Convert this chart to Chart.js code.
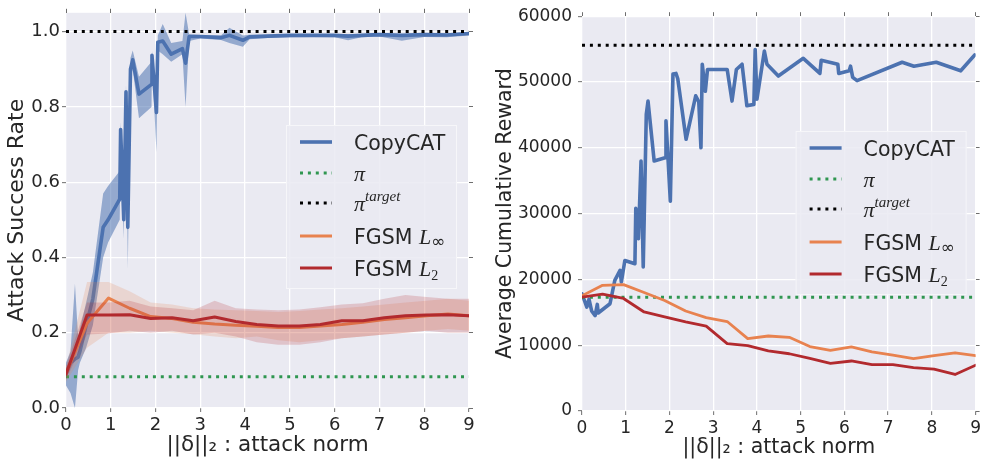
<!DOCTYPE html>
<html>
<head>
<meta charset="utf-8">
<script src="https://cdn.jsdelivr.net/npm/chart.js@4.4.0/dist/chart.umd.min.js"></script>
<style>
  html, body { margin: 0; padding: 0; background: #fff; }
  #wrap { position: relative; width: 984px; height: 460px; }
  .panel { position: absolute; top: 0; height: 460px; }
  #left { left: 0; width: 490px; }
  #right { left: 490px; width: 494px; }
</style>
</head>
<body>
<div id="wrap">
  <div class="panel" id="left"><canvas id="successChart" width="490" height="460"></canvas></div>
  <div class="panel" id="right"><canvas id="rewardChart" width="494" height="460"></canvas></div>
</div>
<script>
// ---- data ----
const xTicks = [0, 1, 2, 3, 4, 5, 6, 7, 8, 9];
const successTicks = [0, 0.2, 0.4, 0.6, 0.8, 1.0];
const rewardTicks = [0, 10000, 20000, 30000, 40000, 50000, 60000];
const seriesNames = ['CopyCAT', 'π', 'πtarget', 'FGSM L∞', 'FGSM L₂'];

// FGSM sweeps share one grid of attack norms
const fgsmNorms = [0, 0.47, 0.95, 1.42, 1.89, 2.37, 2.84, 3.32, 3.79, 4.26, 4.74, 5.21, 5.68, 6.16, 6.63, 7.11, 7.58, 8.05, 8.53, 9];

// left panel: attack success rate
const copycatNorms = [0, 0.1, 0.2, 0.27, 0.31, 0.45, 0.6, 0.83, 0.94, 1.2, 1.22, 1.29, 1.34, 1.38, 1.44, 1.49, 1.63, 1.91, 1.92, 2.02, 2.05, 2.16, 2.35, 2.6, 2.67, 2.75, 3.0, 3.46, 3.65, 3.95, 4.1, 4.5, 5.0, 5.5, 6.0, 6.3, 6.6, 7.0, 7.5, 8.0, 8.5, 9.0];
const copycatRate = [0.09, 0.12, 0.13, 0.135, 0.15, 0.22, 0.29, 0.48, 0.50, 0.555, 0.74, 0.50, 0.84, 0.48, 0.90, 0.925, 0.834, 0.86, 0.937, 0.785, 0.972, 0.975, 0.94, 0.955, 0.916, 0.987, 0.987, 0.984, 0.99, 0.977, 0.986, 0.988, 0.99, 0.99, 0.99, 0.988, 0.99, 0.992, 0.99, 0.992, 0.991, 0.995];
const copycatRateLow = [0.06, 0.04, 0.0, 0.10, 0.12, 0.16, 0.22, 0.40, 0.44, 0.50, 0.70, 0.45, 0.82, 0.37, 0.87, 0.90, 0.77, 0.80, 0.92, 0.68, 0.95, 0.94, 0.92, 0.94, 0.80, 0.975, 0.982, 0.978, 0.97, 0.96, 0.98, 0.983, 0.985, 0.986, 0.985, 0.977, 0.985, 0.987, 0.976, 0.986, 0.985, 0.99];
const copycatRateHigh = [0.12, 0.15, 0.33, 0.19, 0.21, 0.28, 0.36, 0.57, 0.59, 0.63, 0.76, 0.54, 0.86, 0.56, 0.93, 0.95, 0.88, 0.92, 0.95, 0.80, 0.99, 1.02, 0.97, 0.975, 1.05, 0.993, 0.991, 0.99, 1.01, 0.99, 0.992, 0.992, 0.993, 0.993, 0.994, 0.993, 0.994, 0.995, 0.994, 0.995, 0.995, 0.998];

const fgsmInfRate = [0.092, 0.225, 0.292, 0.265, 0.243, 0.238, 0.228, 0.223, 0.22, 0.217, 0.214, 0.214, 0.218, 0.222, 0.228, 0.235, 0.24, 0.245, 0.25, 0.245];
const fgsmInfRateLow = [0.07, 0.16, 0.20, 0.20, 0.205, 0.20, 0.196, 0.19, 0.185, 0.19, 0.18, 0.175, 0.18, 0.185, 0.19, 0.195, 0.20, 0.205, 0.21, 0.205];
const fgsmInfRateHigh = [0.11, 0.335, 0.335, 0.31, 0.28, 0.275, 0.265, 0.262, 0.26, 0.258, 0.255, 0.258, 0.262, 0.265, 0.27, 0.275, 0.28, 0.285, 0.29, 0.285];

const fgsmL2Rate = [0.09, 0.247, 0.247, 0.248, 0.238, 0.24, 0.232, 0.242, 0.23, 0.222, 0.218, 0.218, 0.222, 0.232, 0.232, 0.24, 0.245, 0.247, 0.248, 0.245];
const fgsmL2RateLow = [0.075, 0.195, 0.198, 0.205, 0.20, 0.205, 0.195, 0.20, 0.19, 0.175, 0.168, 0.168, 0.175, 0.185, 0.19, 0.195, 0.20, 0.205, 0.20, 0.20];
const fgsmL2RateHigh = [0.11, 0.28, 0.28, 0.285, 0.27, 0.265, 0.26, 0.285, 0.265, 0.262, 0.26, 0.262, 0.268, 0.275, 0.278, 0.29, 0.30, 0.295, 0.29, 0.29];

const piRate = 0.083;
const targetRate = 1.0;

// right panel: average cumulative reward
const copycatRewardNorms = [0, 0.11, 0.16, 0.22, 0.30, 0.35, 0.37, 0.64, 0.75, 0.87, 0.90, 0.98, 1.21, 1.23, 1.29, 1.35, 1.40, 1.47, 1.51, 1.65, 1.90, 1.92, 2.02, 2.08, 2.15, 2.19, 2.38, 2.60, 2.67, 2.72, 2.75, 2.82, 2.87, 3.32, 3.43, 3.53, 3.66, 3.77, 3.93, 3.96, 4.00, 4.17, 4.23, 4.49, 5.06, 5.44, 5.47, 5.85, 5.87, 6.11, 6.14, 6.19, 6.29, 7.32, 7.59, 8.10, 8.66, 8.98];
const copycatReward = [17800, 15800, 17000, 15200, 14500, 16200, 14900, 16300, 19850, 21360, 19600, 22880, 22380, 30800, 26200, 38000, 21900, 45100, 47100, 38000, 38500, 44100, 31900, 51200, 51300, 50500, 41300, 47900, 47000, 40000, 52700, 48600, 51900, 51900, 47100, 51900, 52700, 46400, 46600, 54950, 47400, 54700, 52700, 50900, 53600, 51300, 53300, 52700, 51300, 51700, 52400, 50700, 50200, 53000, 52400, 53000, 51700, 54100];
const fgsmInfReward = [17500, 19100, 19200, 18000, 16800, 15200, 14200, 13600, 11000, 11400, 11200, 9800, 9200, 9750, 9000, 8500, 7950, 8400, 8850, 8400];
const fgsmL2Reward = [17300, 17750, 17100, 15050, 14300, 13550, 12900, 10250, 9950, 9150, 8700, 8000, 7250, 7600, 7050, 7050, 6600, 6350, 5550, 6950];
const piReward = 17300;
const targetReward = 55600;

// ---- styling ----
const FONT = '"DejaVu Sans", sans-serif';
const TEXT = '#262626';
const TICK_COLOR = '#6e6e6e';
const BLUE = '#4C72B0';
const GREEN = '#2F9650';
const ORANGE = '#E8824F';
const RED = '#B22A2E';
const DOTS = [3, 4.9];

function points(xs, ys) {
  return xs.map((x, i) => ({ x: x, y: ys[i] }));
}

function flat(v) {
  return [{ x: xTicks[0], y: v }, { x: xTicks[xTicks.length - 1], y: v }];
}

function line(label, data, color, width, order, dash) {
  return {
    label: label, data: data, borderColor: color, borderWidth: width, borderDash: dash || [],
    pointRadius: 0, tension: 0, fill: false, order: order,
    borderJoinStyle: 'round', borderCapStyle: dash ? 'butt' : 'round'
  };
}

function band(label, low, high, color, order) {
  return [
    { label: label + ' low', data: low, borderWidth: 0, pointRadius: 0, fill: false, order: order },
    { label: label + ' high', data: high, borderWidth: 0, pointRadius: 0, fill: '-1', backgroundColor: color, order: order - 1 }
  ];
}

// grey plot area behind the grid
const plotBackground = {
  id: 'plotBackground',
  beforeDraw(chart) {
    const { ctx, chartArea: a } = chart;
    ctx.save();
    ctx.fillStyle = '#EAEAF2';
    ctx.fillRect(a.left, a.top, a.right - a.left, a.bottom - a.top);
    ctx.restore();
  }
};

const SANS = '20.5px ' + FONT;
const MATH = 'italic 22px "Liberation Serif", serif';
const MATH_SUP = 'italic 15px "Liberation Serif", serif';
const SUB_INF = '17px "DejaVu Sans", sans-serif';
const SUB_NUM = '14px "Liberation Serif", serif';

// legend labels contain math, so split them into styled runs
function labelParts(name) {
  switch (name) {
    case 'CopyCAT': return [{ text: 'CopyCAT', font: SANS, dy: 8 }];
    case 'π': return [{ text: 'π', font: MATH, dy: 8 }];
    case 'πtarget': return [{ text: 'π', font: MATH, dy: 8 }, { text: 'target', font: MATH_SUP, dy: -2 }];
    case 'FGSM L∞': return [{ text: 'FGSM ', font: SANS, dy: 8 }, { text: 'L', font: MATH, dy: 8 }, { text: '∞', font: SUB_INF, dy: 11 }];
    case 'FGSM L₂': return [{ text: 'FGSM ', font: SANS, dy: 8 }, { text: 'L', font: MATH, dy: 8 }, { text: '2', font: SUB_NUM, dy: 12 }];
  }
  return [{ text: name, font: SANS, dy: 8 }];
}

function drawRich(ctx, parts, x, y) {
  parts.forEach(p => {
    ctx.font = p.font;
    ctx.fillText(p.text, x, y + p.dy);
    x += ctx.measureText(p.text).width;
  });
}

const mathLegend = {
  id: 'mathLegend',
  afterDraw(chart, args, opts) {
    const { ctx, chartArea: a } = chart;
    const left = a.right - opts.right;
    const top = opts.top;
    const rows = [17, 48, 78, 111, 143];
    ctx.save();
    ctx.fillStyle = 'rgba(234, 234, 242, 0.85)';
    ctx.fillRect(left, top, 171, 164);
    ctx.strokeStyle = '#F6F6F9';
    ctx.lineWidth = 1;
    ctx.strokeRect(left + 0.5, top + 0.5, 170, 163);
    seriesNames.forEach((name, i) => {
      const ds = chart.data.datasets.find(d => d.label === name);
      const y = top + rows[i];
      ctx.beginPath();
      ctx.strokeStyle = ds.borderColor;
      ctx.lineWidth = ds.borderWidth;
      ctx.setLineDash(ds.borderDash);
      ctx.lineCap = 'butt';
      ctx.moveTo(left + 14, y);
      ctx.lineTo(left + 46, y);
      ctx.stroke();
      ctx.setLineDash([]);
      ctx.fillStyle = TEXT;
      ctx.textBaseline = 'alphabetic';
      drawRich(ctx, labelParts(name), left + 68, y);
    });
    ctx.restore();
  }
};

function buildScales(o) {
  const tickFont = { family: FONT, size: o.tickSize };
  const yTitleFont = { family: FONT, size: o.yTitleSize };
  const xTitleFont = { family: FONT, size: o.xTitleSize };
  const useTicks = list => scale => { scale.ticks = list.map(v => ({ value: v })); };
  const grid = { color: '#ffffff', lineWidth: 1.3, tickColor: TICK_COLOR, tickLength: 4, tickWidth: 1 };
  const marksOnly = { drawOnChartArea: false, tickColor: TICK_COLOR, tickLength: 4, tickWidth: 1 };
  return {
    x: {
      type: 'linear', position: 'bottom', min: xTicks[0], max: xTicks[xTicks.length - 1],
      afterBuildTicks: useTicks(xTicks),
      afterFit: s => { s.height = o.bottom; },
      grid: grid, border: { display: false },
      ticks: { font: tickFont, color: TEXT, padding: 3, maxRotation: 0 },
      title: { display: true, text: '||δ||₂ : attack norm', font: xTitleFont, color: TEXT, padding: { top: 0, bottom: o.xTitlePad } }
    },
    xTop: {
      type: 'linear', position: 'top', min: xTicks[0], max: xTicks[xTicks.length - 1],
      afterBuildTicks: useTicks(xTicks),
      afterFit: s => { s.height = o.top; },
      grid: marksOnly, border: { display: false }, ticks: { display: false }
    },
    y: {
      type: 'linear', position: 'left', min: o.yMin, max: o.yMax,
      afterBuildTicks: useTicks(o.yTicks),
      afterFit: s => { s.width = o.left; },
      grid: grid, border: { display: false },
      ticks: { font: tickFont, color: TEXT, padding: o.yPad, callback: o.yFormat },
      title: { display: true, text: o.yTitle, font: yTitleFont, color: TEXT, padding: { top: o.yTitlePad, bottom: 0 } }
    },
    yRight: {
      type: 'linear', position: 'right', min: o.yMin, max: o.yMax,
      afterBuildTicks: useTicks(o.yTicks),
      afterFit: s => { s.width = o.right; },
      grid: marksOnly, border: { display: false }, ticks: { display: false }
    }
  };
}

function makeChart(id, datasets, scaleOpts, legendOpts) {
  return new Chart(document.getElementById(id), {
    type: 'line',
    data: { datasets: datasets },
    options: {
      responsive: false,
      animation: false,
      devicePixelRatio: 1,
      layout: { padding: 0, autoPadding: false },
      plugins: { legend: { display: false }, tooltip: { enabled: false }, mathLegend: legendOpts },
      scales: buildScales(scaleOpts)
    },
    plugins: [plotBackground, mathLegend]
  });
}

// left: success rate with spread bands
makeChart('successChart', [
  ...band('CopyCAT', points(copycatNorms, copycatRateLow), points(copycatNorms, copycatRateHigh), 'rgba(76, 114, 176, 0.55)', 20),
  line('CopyCAT', points(copycatNorms, copycatRate), BLUE, 3.6, 18),
  line('π', flat(piRate), GREEN, 3, 17, DOTS),
  line('πtarget', flat(targetRate), '#000000', 3, 16, DOTS),
  ...band('FGSM L∞', points(fgsmNorms, fgsmInfRateLow), points(fgsmNorms, fgsmInfRateHigh), 'rgba(232, 130, 79, 0.2)', 15),
  line('FGSM L∞', points(fgsmNorms, fgsmInfRate), ORANGE, 3, 13),
  ...band('FGSM L₂', points(fgsmNorms, fgsmL2RateLow), points(fgsmNorms, fgsmL2RateHigh), 'rgba(178, 42, 46, 0.2)', 12),
  line('FGSM L₂', points(fgsmNorms, fgsmL2Rate), RED, 3, 10)
], {
  left: 66, right: 21, top: 6, bottom: 52,
  yMin: 0, yMax: 1.05, yTicks: successTicks, yPad: 2, tickSize: 18,
  yFormat: v => v.toFixed(1),
  yTitle: 'Attack Success Rate', yTitleSize: 22, yTitlePad: 4,
  xTitleSize: 21.5, xTitlePad: 2
}, { right: 183, top: 125 });

// right: cumulative reward
makeChart('rewardChart', [
  line('CopyCAT', points(copycatRewardNorms, copycatReward), BLUE, 3.6, 5),
  line('π', flat(piReward), GREEN, 3, 4, DOTS),
  line('πtarget', flat(targetReward), '#000000', 3, 3, DOTS),
  line('FGSM L∞', points(fgsmNorms, fgsmInfReward), ORANGE, 2.8, 2),
  line('FGSM L₂', points(fgsmNorms, fgsmL2Reward), RED, 2.8, 1)
], {
  left: 92, right: 5, top: 14, bottom: 49,
  yMin: 0, yMax: 60000, yTicks: rewardTicks, yPad: 6, tickSize: 17,
  yFormat: v => String(v),
  yTitle: 'Average Cumulative Reward', yTitleSize: 20.5, yTitlePad: 3,
  xTitleSize: 20.5, xTitlePad: 0
}, { right: 180, top: 131 });
</script>
</body>
</html>
